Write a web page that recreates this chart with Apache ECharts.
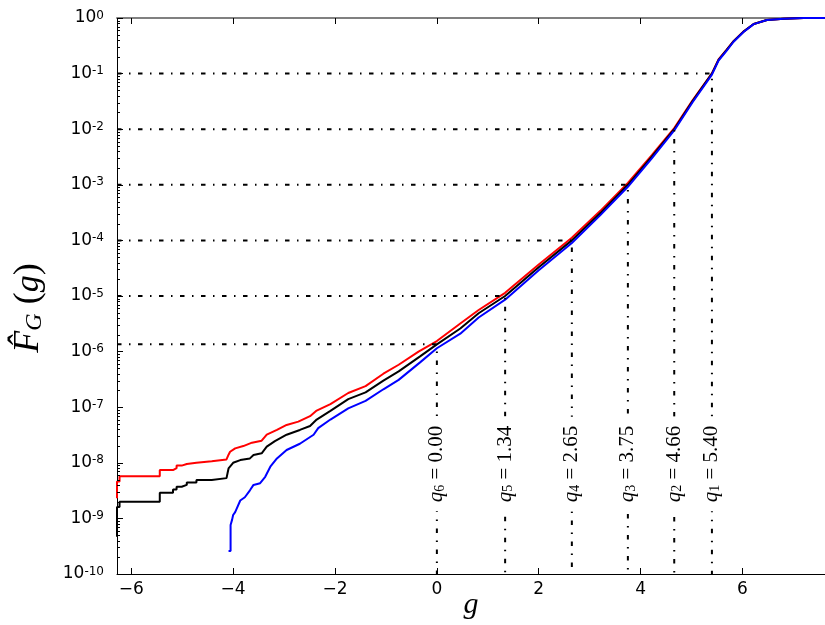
<!DOCTYPE html>
<html><head><meta charset="utf-8">
<script src="https://cdn.jsdelivr.net/npm/echarts@6/dist/echarts.min.js"></script>
<style>html,body{margin:0;padding:0;background:#fff}#c{width:825px;height:625px}</style>
</head><body><div id="c"></div><script>
// ---- data ----
const xMin = -6.28, xMax = 7.62;
const yMin = 1e-10, yMax = 1;
const xTickValues = [-6, -4, -2, 0, 2, 4, 6];
const yTickValues = [1e-10, 1e-9, 1e-8, 1e-7, 1e-6, 1e-5, 1e-4, 1e-3, 1e-2, 1e-1, 1];

const redData = [[-6.28,2.3e-9],[-6.28,4.6e-9],[-6.23,4.6e-9],[-6.23,5.7e-9],[-5.44,5.7e-9],[-5.44,7.4e-9],[-5.18,7.4e-9],[-5.18,8.0e-9],[-5.11,8.0e-9],[-5.11,8.9e-9],[-5.01,8.9e-9],[-5.01,9.5e-9],[-4.91,9.5e-9],[-4.91,1.0e-8],[-4.72,1.0e-8],[-4.72,1.07e-8],[-4.42,1.07e-8],[-4.42,1.15e-8],[-4.13,1.15e-8],[-4.09,1.4e-8],[-4.06,1.58e-8],[-3.96,1.82e-8],[-3.80,2.0e-8],[-3.63,2.3e-8],[-3.44,2.5e-8],[-3.34,3.2e-8],[-3.14,3.9e-8],[-2.95,4.8e-8],[-2.72,5.5e-8],[-2.49,6.9e-8],[-2.36,8.7e-8],[-2.09,1.14e-7],[-1.74,1.8e-7],[-1.40,2.4e-7],[-1.05,4.0e-7],[-0.75,5.8e-7],[-0.36,1.0e-6],[0,1.55e-6],[0.46,3.2e-6],[0.82,5.6e-6],[1.34,1.14e-5],[2.0,3.7e-5],[2.65,1.12e-4],[3.21,3.4e-4],[3.75,1.08e-3],[4.22,3.4e-3],[4.66,1.05e-2],[5.02,3.3e-2],[5.40,0.101],[5.53,0.18],[5.69,0.27],[5.82,0.38],[6.02,0.57],[6.22,0.78],[6.48,0.92],[6.81,0.973],[7.2,0.995],[7.62,1.0]];

const blackData = [[-6.28,4.7e-10],[-6.28,1.6e-9],[-6.23,1.6e-9],[-6.23,2.0e-9],[-5.44,2.0e-9],[-5.44,2.9e-9],[-5.18,2.9e-9],[-5.18,3.3e-9],[-5.11,3.3e-9],[-5.11,3.7e-9],[-5.01,3.7e-9],[-5.01,4.0e-9],[-4.91,4.0e-9],[-4.91,4.4e-9],[-4.72,4.4e-9],[-4.72,4.9e-9],[-4.42,4.9e-9],[-4.42,5.3e-9],[-4.13,5.3e-9],[-4.11,6.5e-9],[-4.09,7.9e-9],[-4.0,1.0e-8],[-3.86,1.12e-8],[-3.67,1.2e-8],[-3.60,1.38e-8],[-3.44,1.48e-8],[-3.34,1.95e-8],[-3.18,2.45e-8],[-2.95,3.2e-8],[-2.69,3.9e-8],[-2.49,4.6e-8],[-2.36,6.0e-8],[-2.09,8.6e-8],[-1.74,1.4e-7],[-1.40,1.85e-7],[-1.05,3.0e-7],[-0.75,4.4e-7],[-0.33,8.2e-7],[0,1.35e-6],[0.46,2.6e-6],[0.82,4.9e-6],[1.34,1.0e-5],[2.0,3.3e-5],[2.65,1.0e-4],[3.21,3.1e-4],[3.75,1.0e-3],[4.22,3.2e-3],[4.66,1.0e-2],[5.02,3.2e-2],[5.40,0.1],[5.53,0.177],[5.69,0.266],[5.82,0.377],[6.02,0.568],[6.22,0.78],[6.48,0.92],[6.81,0.973],[7.2,0.995],[7.62,1.0]];

const blueData = [[-4.09,2.6e-10],[-4.05,2.6e-10],[-4.05,7.6e-10],[-4.02,9.5e-10],[-4.0,1.15e-9],[-3.96,1.3e-9],[-3.93,1.5e-9],[-3.86,2.1e-9],[-3.77,2.4e-9],[-3.67,3.2e-9],[-3.60,4.0e-9],[-3.47,4.3e-9],[-3.37,5.6e-9],[-3.27,8.5e-9],[-3.14,1.2e-8],[-2.95,1.7e-8],[-2.69,2.2e-8],[-2.42,3.2e-8],[-2.33,4.2e-8],[-2.09,6.0e-8],[-1.74,9.5e-8],[-1.40,1.3e-7],[-1.05,2.1e-7],[-0.75,3.1e-7],[-0.33,6.4e-7],[0,1.15e-6],[0.46,2.1e-6],[0.82,4.1e-6],[1.34,8.6e-6],[2.0,2.9e-5],[2.65,9.0e-5],[3.21,2.85e-4],[3.75,9.2e-4],[4.22,3.0e-3],[4.66,9.5e-3],[5.02,3.05e-2],[5.40,0.096],[5.53,0.172],[5.69,0.26],[5.82,0.37],[6.02,0.56],[6.22,0.775],[6.48,0.918],[6.81,0.972],[7.2,0.995],[7.62,1.0]];

const quantileNames = ['1', '2', '3', '4', '5', '6'];
const quantiles = [5.40, 4.66, 3.75, 2.65, 1.34, 0.00];
const quantileLevels = [1e-1, 1e-2, 1e-3, 1e-4, 1e-5, 1.35e-6];
const quantileLabelY = 9.5e-9;

// ---- build the chart ----
const minorTickValues = [];
for (let e = -10; e < 0; e++) for (let k = 2; k <= 9; k++) minorTickValues.push(k * Math.pow(10, e));

const serif = "'Liberation Serif', 'DejaVu Serif', serif";
const sans = "'DejaVu Sans', sans-serif";
const dashDot = [4.5, 7.5, 1.5, 7.5];

const series = [];
const curve = (data, color) => ({
  type: 'line', data, showSymbol: false, symbol: 'none', smooth: false,
  lineStyle: { color, width: 2 }, z: 3, clip: true, silent: true
});
series.push(curve(redData, '#ff0000'));
series.push(curve(blackData, '#000000'));
series.push(curve(blueData, '#0000ff'));

quantiles.forEach((q, i) => {
  series.push({
    type: 'line', symbol: 'none', silent: true, z: 4,
    data: [[xMin, quantileLevels[i]], [q, quantileLevels[i]], [q, yMin]],
    lineStyle: { color: '#000', width: 2, type: dashDot }
  });
});

series.push({
  type: 'scatter', symbolSize: 0, z: 6, silent: true,
  itemStyle: { opacity: 1 },
  data: quantiles.map((q, i) => ({
    value: [q, quantileLabelY],
    label: { formatter: '{i|q}{s|' + quantileNames[i] + '}{t| = ' + q.toFixed(2) + '}' }
  })),
  label: {
    show: true, position: 'inside', rotate: 90, color: '#000', opacity: 1,
    backgroundColor: '#fff', padding: [0, 9],
    rich: {
      i: { fontFamily: serif, fontStyle: 'italic', fontSize: 21, color: '#000' },
      s: { fontFamily: serif, fontSize: 14, verticalAlign: 'bottom', color: '#000' },
      t: { fontFamily: serif, fontSize: 21, color: '#000' }
    }
  }
});

series.push({
  type: 'custom', silent: true, z: 5, clip: false,
  data: minorTickValues.map(v => [xMin, v]),
  renderItem: (params, api) => {
    const p = api.coord([api.value(0), api.value(1)]);
    const y = Math.round(p[1]) + 0.5;
    return { type: 'line', shape: { x1: p[0], y1: y, x2: p[0] + 3, y2: y }, style: { stroke: '#000', lineWidth: 1 } };
  }
});

const option = {
  animation: false,
  backgroundColor: '#fff',
  grid: { left: 117, top: 18, right: 0, bottom: 51, containLabel: false, outerBoundsMode: 'none' },
  xAxis: [{
    type: 'value', min: xMin, max: xMax, position: 'bottom',
    name: 'g', nameLocation: 'middle', nameGap: 16, nameMoveOverlap: false,
    nameTextStyle: { fontFamily: serif, fontStyle: 'italic', fontSize: 30, color: '#000', verticalAlign: 'top' },
    axisLine: { show: true, onZero: false, lineStyle: { color: '#000', width: 1 } },
    axisTick: { show: true, inside: true, length: 6, customValues: xTickValues, lineStyle: { color: '#000' } },
    axisLabel: { customValues: xTickValues, fontFamily: sans, fontSize: 17, color: '#000', margin: 7,
      formatter: v => (v < 0 ? '\u2212' + Math.abs(v) : String(v)) },
    splitLine: { show: false }
  }, {
    type: 'value', min: xMin, max: xMax, position: 'top',
    axisLine: { show: true, onZero: false, lineStyle: { color: '#808080', width: 2 } },
    axisTick: { show: true, inside: true, length: 6, customValues: xTickValues, lineStyle: { color: '#000' } },
    axisLabel: { show: false },
    splitLine: { show: false }
  }],
  yAxis: [{
    type: 'log', logBase: 10, min: yMin, max: yMax, splitNumber: 10,
    name: '{f|F\u0302}{g|G}{p| (}{q|g}{p|)}', nameLocation: 'middle', nameGap: 70, nameRotate: 90,
    nameMoveOverlap: false,
    nameTextStyle: {
      color: '#000', padding: [0, 24, 0, 0],
      rich: {
        f: { fontFamily: serif, fontStyle: 'italic', fontSize: 36, color: '#000' },
        g: { fontFamily: serif, fontStyle: 'italic', fontSize: 24, verticalAlign: 'bottom', color: '#000' },
        p: { fontFamily: serif, fontSize: 36, color: '#000' },
        q: { fontFamily: serif, fontStyle: 'italic', fontSize: 34, color: '#000' }
      }
    },
    axisLine: { show: true, onZero: false, lineStyle: { color: '#000', width: 1 } },
    axisTick: { show: true, inside: true, length: 6, customValues: yTickValues, lineStyle: { color: '#000' } },
    axisLabel: {
      customValues: yTickValues,
      margin: 13, color: '#000',
      formatter: v => '{b|10}{s|' + Math.round(Math.log10(v)) + '}',
      rich: {
        b: { fontFamily: sans, fontSize: 17, color: '#000' },
        s: { fontFamily: sans, fontSize: 12, verticalAlign: 'top', color: '#000' }
      }
    },
    splitLine: { show: false }
  }],
  series
};

const chart = echarts.init(document.getElementById('c'), null, { renderer: 'canvas' });
chart.setOption(option);
</script></body></html>
